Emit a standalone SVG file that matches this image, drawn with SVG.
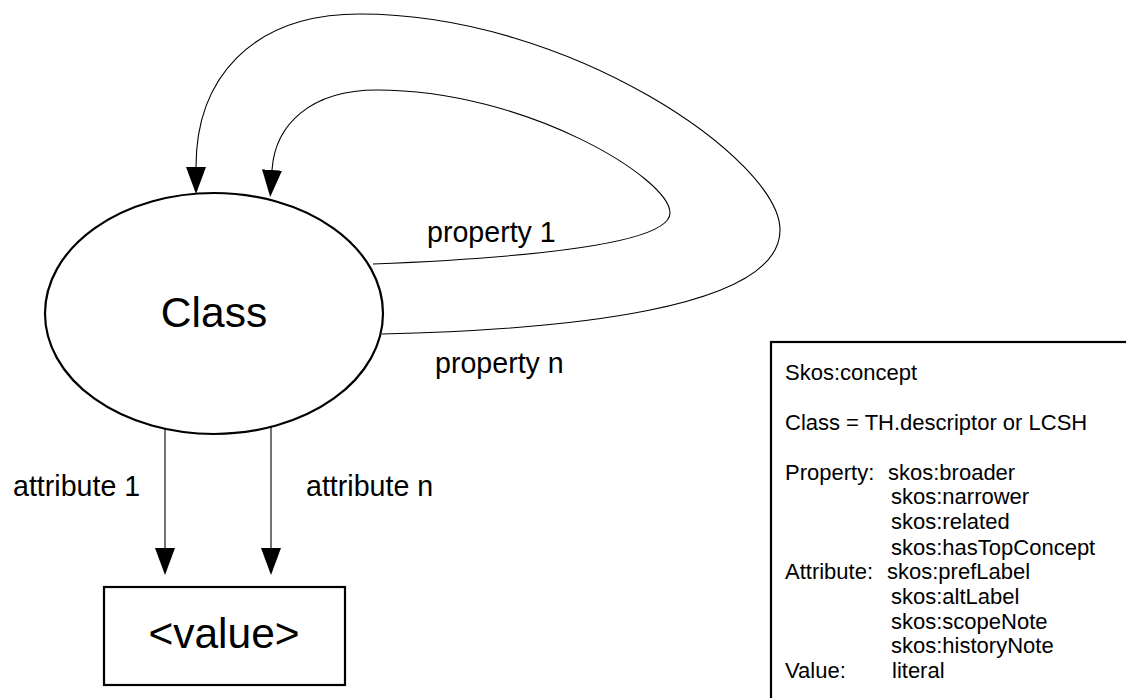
<svg xmlns="http://www.w3.org/2000/svg" width="1126" height="698" viewBox="0 0 1126 698">
  <style>
    text { font-family: "Liberation Sans", Arial, sans-serif; fill: #000; }
    .shape { fill: #fff; stroke: #000; stroke-width: 2.2; }
    .edge { fill: none; stroke: #000; stroke-width: 1.1; }
    .lbl { font-size: 28.6px; }
    .note { font-size: 22px; }
  </style>
  <defs>
    <marker id="arrow" viewBox="0 0 27 20" refX="0" refY="10" markerUnits="userSpaceOnUse" markerWidth="27" markerHeight="20" orient="auto">
      <path d="M0,0 L27,10 L0,20 Z" fill="#000"/>
    </marker>
  </defs>

  <!-- connectors -->
  <g id="connectors">
    <!-- property 1: self-loop -->
    <path class="edge" marker-end="url(#arrow)" d="M373,264 C520,258 670,245 670,213 C670,178 525,90 377,90 C310,90 275,125 272,170"/>
    <!-- property n: self-loop -->
    <path class="edge" marker-end="url(#arrow)" d="M382,334 C560,330 780,310 780,230 C780,160 570,14 360,14 C250,14 196,80 196,167"/>
    <!-- attributes -->
    <path class="edge" marker-end="url(#arrow)" d="M165,429 L165,548"/>
    <path class="edge" marker-end="url(#arrow)" d="M271,427 L271,548"/>
    <text class="lbl" x="427" y="242">property 1</text>
    <text class="lbl" x="435" y="373">property n</text>
    <text class="lbl" x="13" y="496">attribute 1</text>
    <text class="lbl" x="306" y="496">attribute n</text>
  </g>

  <!-- class node -->
  <g id="class">
    <ellipse class="shape" cx="214" cy="313.5" rx="169" ry="120.5"/>
    <text x="214" y="327" font-size="42.5" text-anchor="middle">Class</text>
  </g>

  <!-- value node -->
  <g id="value">
    <rect class="shape" x="104" y="587" width="241" height="98"/>
    <text x="224" y="648" font-size="42.5" text-anchor="middle">&lt;value&gt;</text>
  </g>

  <!-- legend -->
  <g id="legend">
    <rect class="shape" x="771" y="342" width="400" height="400"/>
    <text class="note" x="785" y="380">Skos:concept</text>
    <text class="note" x="785" y="430">Class = TH.descriptor or LCSH</text>
    <text class="note" x="785" y="480">Property:</text>
    <text class="note" x="888" y="480">skos:broader</text>
    <text class="note" x="891" y="504">skos:narrower</text>
    <text class="note" x="891" y="529">skos:related</text>
    <text class="note" x="891" y="555">skos:hasTopConcept</text>
    <text class="note" x="785" y="579">Attribute:</text>
    <text class="note" x="887" y="579">skos:prefLabel</text>
    <text class="note" x="891" y="604">skos:altLabel</text>
    <text class="note" x="891" y="629">skos:scopeNote</text>
    <text class="note" x="891" y="653">skos:historyNote</text>
    <text class="note" x="785" y="678">Value:</text>
    <text class="note" x="892" y="678">literal</text>
  </g>
</svg>
